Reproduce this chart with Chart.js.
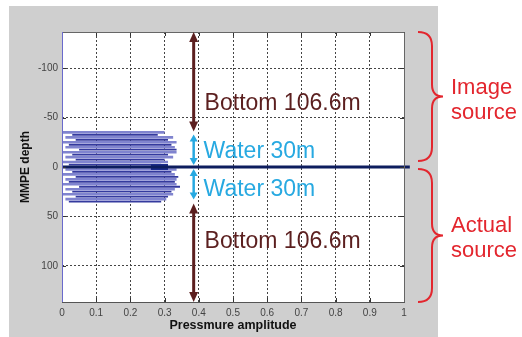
<!DOCTYPE html>
<html><head><meta charset="utf-8">
<script src="https://cdn.jsdelivr.net/npm/chart.js@4/dist/chart.umd.min.js"></script>
<style>html,body{margin:0;padding:0;background:#fff;overflow:hidden}canvas{display:block}</style>
</head><body>
<canvas id="c" width="522" height="337"></canvas>
<script>
// ---- data ----
const xTicks = [0,0.1,0.2,0.3,0.4,0.5,0.6,0.7,0.8,0.9,1];
const yTicks = [-100,-50,0,50,100];
const depthMin = -136.6, depthMax = 136.6;
const traceDepth = [-35,-32.5,-30,-27.5,-25,-22.5,-20,-17.5,-15,-12.5,-10,-7.5,-5,-2.5,2.5,5,7.5,10,12.5,15,17.5,20,22.5,25,27.5,30,32.5,35];
const traceStart = [0.00,0.03,0.01,0.04,0.00,0.02,0.01,0.05,0.00,0.03,0.01,0.04,0.00,0.02,0.01,0.03,0.00,0.04,0.01,0.02,0.00,0.05,0.01,0.03,0.00,0.04,0.01,0.02];
const traceEnd   = [0.30,0.28,0.325,0.31,0.335,0.32,0.33,0.335,0.335,0.31,0.325,0.30,0.31,0.29,0.335,0.32,0.33,0.34,0.335,0.33,0.335,0.345,0.33,0.32,0.325,0.31,0.305,0.29];
const sourceDepth = 0;
const sourceLine = [0, 1.017];
const blobLine = [0.26, 0.31];
const arrowX = 0.385;
const arrowFrom = [-136.6, -33, 2, 37];
const arrowTo   = [-36, -2, 33, 136.6];
const arrowKind = ['bottom','water','water','bottom'];
const labelText = ['Bottom 106.6m','Water 30m','Water 30m','Bottom 106.6m'];
const labelX = [0.417, 0.414, 0.414, 0.417];
const labelY = [-57.6, -9.1, 29.3, 81.8];
const braceFrom = [-136.6, 2];
const braceTo   = [-6, 136.6];
const braceText = [['Image','source'],['Actual','source']];

// ---- styles ----
const FONT = '"Liberation Sans", Arial, sans-serif';
const BROWN = '#5b1f1f', CYAN = '#27a9e1', RED = '#e3262e';

const datasets = [];
datasets.push({data: sourceLine.map(x => ({x, y: sourceDepth})), borderColor:'#0d1d5e', borderWidth:3, clip:false});
datasets.push({data: blobLine.map(x => ({x, y: sourceDepth})), borderColor:'#1a2a8a', borderWidth:6});
traceDepth.forEach((d, i) => {
  const light = i % 2 === 0;
  datasets.push({
    data: [{x: traceStart[i], y: d}, {x: traceEnd[i], y: d}],
    borderColor: light ? '#8084cf' : '#343a9e',
    borderWidth: light ? 2.6 : 1.8
  });
});

function head(ctx, x, y, dir, hl, hw) {
  ctx.beginPath();
  ctx.moveTo(x, y);
  ctx.lineTo(x - hw/2, y - dir*hl);
  ctx.lineTo(x + hw/2, y - dir*hl);
  ctx.closePath();
  ctx.fill();
}

const deco = {
  id: 'deco',
  beforeDraw(chart) {
    const ctx = chart.ctx, a = chart.chartArea;
    ctx.save();
    ctx.fillStyle = '#fff'; ctx.fillRect(0,0,chart.width,chart.height);
    ctx.fillStyle = '#cfcfcf'; ctx.fillRect(9,6,429,331);
    ctx.fillStyle = '#fff'; ctx.fillRect(a.left,a.top,a.right-a.left,a.bottom-a.top);
    ctx.restore();
  },
  afterDraw(chart) {
    const ctx = chart.ctx, a = chart.chartArea;
    const xs = chart.scales.x, ys = chart.scales.y;
    ctx.save();
    // inner tick marks
    ctx.strokeStyle = '#333'; ctx.lineWidth = 1;
    xTicks.forEach(v => {
      const px = Math.round(xs.getPixelForValue(v)) + 0.5;
      ctx.beginPath(); ctx.moveTo(px, a.top); ctx.lineTo(px, a.top+4);
      ctx.moveTo(px, a.bottom); ctx.lineTo(px, a.bottom-4); ctx.stroke();
    });
    yTicks.forEach(v => {
      const py = Math.round(ys.getPixelForValue(v)) + 0.5;
      ctx.beginPath(); ctx.moveTo(a.left, py); ctx.lineTo(a.left+4, py);
      ctx.moveTo(a.right, py); ctx.lineTo(a.right-4, py); ctx.stroke();
    });
    // frame
    ctx.strokeStyle = '#666'; ctx.lineWidth = 1;
    ctx.beginPath(); ctx.moveTo(a.left, a.top+0.5); ctx.lineTo(a.right+0.5, a.top+0.5); ctx.lineTo(a.right+0.5, a.bottom); ctx.stroke();
    ctx.strokeStyle = '#6a6acc';
    ctx.beginPath(); ctx.moveTo(a.left+0.5, a.top); ctx.lineTo(a.left+0.5, a.bottom); ctx.stroke();
    // arrows
    arrowFrom.forEach((f, i) => {
      const t = arrowTo[i];
      const bottom = arrowKind[i] === 'bottom';
      const col = bottom ? BROWN : CYAN;
      const hl = bottom ? 10 : 7, hw = bottom ? 9 : 8;
      const x = xs.getPixelForValue(arrowX);
      const y1 = ys.getPixelForValue(f), y2 = ys.getPixelForValue(t);
      const dir = Math.sign(y2 - y1);
      ctx.strokeStyle = col; ctx.fillStyle = col; ctx.lineWidth = bottom ? 3 : 2.5;
      ctx.beginPath(); ctx.moveTo(x, y1 + dir*hl*0.8); ctx.lineTo(x, y2 - dir*hl*0.8); ctx.stroke();
      head(ctx, x, y1, -dir, hl, hw);
      head(ctx, x, y2, dir, hl, hw);
    });
    // labels
    ctx.font = '23px ' + FONT; ctx.textBaseline = 'alphabetic'; ctx.textAlign = 'left';
    labelText.forEach((s, i) => {
      ctx.fillStyle = s.startsWith('Bottom') ? BROWN : CYAN;
      ctx.fillText(s, xs.getPixelForValue(labelX[i]), ys.getPixelForValue(labelY[i]));
    });
    // braces
    braceFrom.forEach((f, i) => {
      const y1 = ys.getPixelForValue(f), y2 = ys.getPixelForValue(braceTo[i]);
      const ym = (y1 + y2) / 2;
      const x0 = a.right + 14, xb = a.right + 28, xt = a.right + 39;
      ctx.strokeStyle = RED; ctx.lineWidth = 2;
      ctx.beginPath();
      ctx.moveTo(x0, y1);
      ctx.quadraticCurveTo(xb, y1, xb, y1 + 14);
      ctx.lineTo(xb, ym - 12);
      ctx.quadraticCurveTo(xb, ym, xt, ym);
      ctx.quadraticCurveTo(xb, ym, xb, ym + 12);
      ctx.lineTo(xb, y2 - 14);
      ctx.quadraticCurveTo(xb, y2, x0, y2);
      ctx.stroke();
      ctx.fillStyle = RED; ctx.font = '22px ' + FONT;
      ctx.fillText(braceText[i][0], a.right + 47, ym - 3);
      ctx.fillText(braceText[i][1], a.right + 47, ym + 22);
    });
    ctx.restore();
  }
};

new Chart(document.getElementById('c'), {
  type: 'scatter',
  data: { datasets },
  options: {
    responsive: false, animation: false, devicePixelRatio: 1,
    showLine: true,
    elements: { point: { radius: 0 }, line: { tension: 0 } },
    layout: { padding: { left: 0, top: 32, right: 118, bottom: 0 } },
    plugins: { legend: { display: false }, tooltip: { enabled: false } },
    scales: {
      x: {
        type: 'linear', min: 0, max: 1,
        afterBuildTicks: s => { s.ticks = xTicks.map(v => ({value: v})); },
        afterFit: s => { s.height = 35; },
        grid: { color: '#444', lineWidth: 1, drawTicks: false },
        border: { display: true, color: '#555', width: 1, dash: [2, 2] },
        ticks: { padding: 5, color: '#444', font: { family: FONT, size: 10 }, maxRotation: 0, callback: v => String(v) },
        title: { display: true, text: 'Pressmure amplitude', color: '#111', font: { family: FONT, size: 12.5, weight: 'bold' }, padding: { top: 0, bottom: 4 } }
      },
      y: {
        type: 'linear', min: depthMin, max: depthMax, reverse: true,
        afterBuildTicks: s => { s.ticks = yTicks.map(v => ({value: v})); },
        afterFit: s => { s.width = 62; },
        grid: { color: '#444', lineWidth: 1, drawTicks: false },
        border: { display: false, dash: [2, 2] },
        ticks: { padding: 4, color: '#444', font: { family: FONT, size: 10 }, callback: v => String(v) },
        title: { display: true, text: 'MMPE depth', color: '#111', font: { family: FONT, size: 12, weight: 'bold' }, padding: { top: 18, bottom: 0 } }
      }
    }
  },
  plugins: [deco]
});
</script>
</body></html>
